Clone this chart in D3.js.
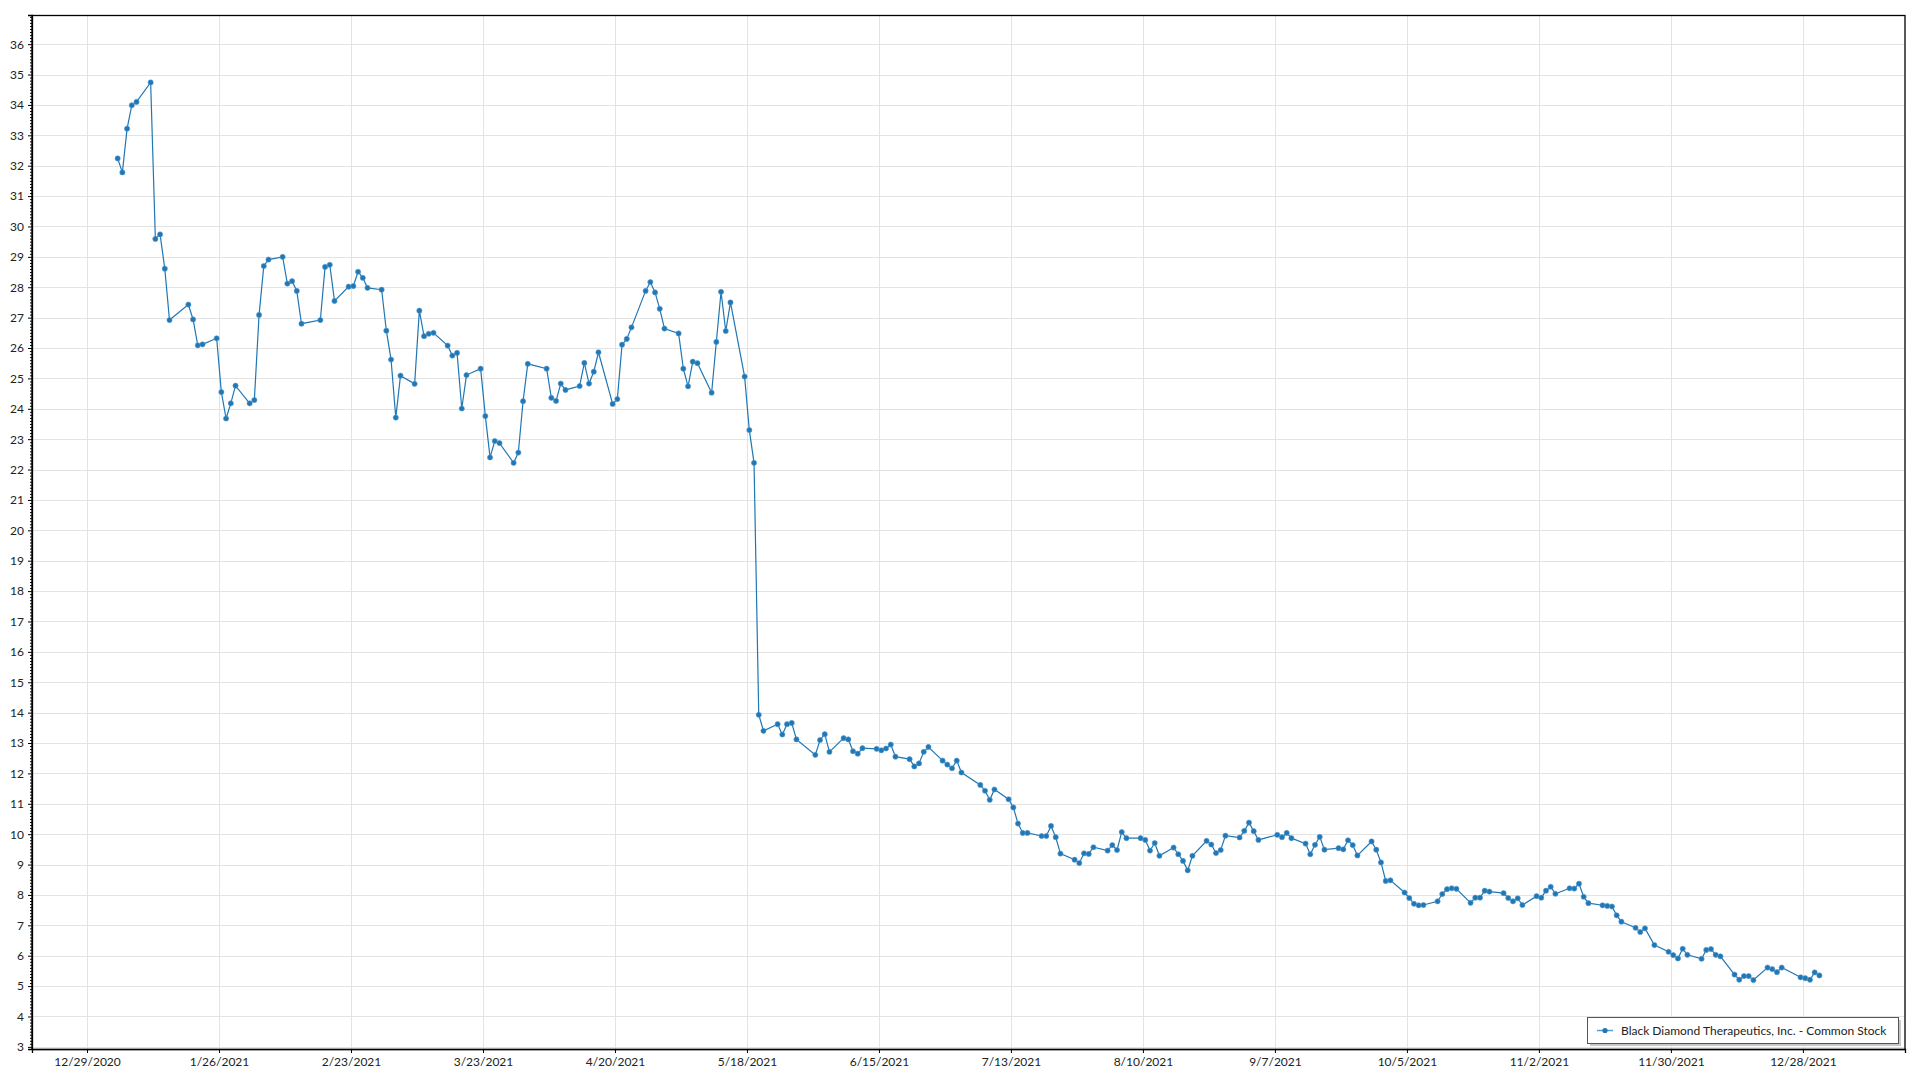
<!DOCTYPE html>
<html>
<head>
<meta charset="utf-8">
<script src="https://cdn.jsdelivr.net/npm/d3@7"></script>
<style>
  html, body { margin: 0; padding: 0; background: #fff; }
  svg { display: block; }
  text { font-family: "Segoe UI", Lato, "Noto Sans", sans-serif; }
</style>
</head>
<body>
<svg id="chart" width="1920" height="1080"></svg>
<script>
// ---- Data ----
const seriesName = "Black Diamond Therapeutics, Inc. - Common Stock";

const tradeDates = [
  "2021-01-04","2021-01-05","2021-01-06","2021-01-07","2021-01-08","2021-01-11","2021-01-12","2021-01-13","2021-01-14","2021-01-15",
  "2021-01-19","2021-01-20","2021-01-21","2021-01-22","2021-01-25","2021-01-26","2021-01-27","2021-01-28","2021-01-29",
  "2021-02-01","2021-02-02","2021-02-03","2021-02-04","2021-02-05","2021-02-08","2021-02-09","2021-02-10","2021-02-11","2021-02-12",
  "2021-02-16","2021-02-17","2021-02-18","2021-02-19","2021-02-22","2021-02-23","2021-02-24","2021-02-25","2021-02-26",
  "2021-03-01","2021-03-02","2021-03-03","2021-03-04","2021-03-05","2021-03-08","2021-03-09","2021-03-10","2021-03-11","2021-03-12",
  "2021-03-15","2021-03-16","2021-03-17","2021-03-18","2021-03-19","2021-03-22","2021-03-23","2021-03-24","2021-03-25","2021-03-26",
  "2021-03-29","2021-03-30","2021-03-31",
  "2021-04-01","2021-04-05","2021-04-06","2021-04-07","2021-04-08","2021-04-09","2021-04-12","2021-04-13","2021-04-14","2021-04-15",
  "2021-04-16","2021-04-19","2021-04-20","2021-04-21","2021-04-22","2021-04-23","2021-04-26","2021-04-27","2021-04-28","2021-04-29","2021-04-30",
  "2021-05-03","2021-05-04","2021-05-05","2021-05-06","2021-05-07","2021-05-10","2021-05-11","2021-05-12","2021-05-13","2021-05-14",
  "2021-05-17","2021-05-18","2021-05-19","2021-05-20","2021-05-21","2021-05-24","2021-05-25","2021-05-26","2021-05-27","2021-05-28",
  "2021-06-01","2021-06-02","2021-06-03","2021-06-04","2021-06-07","2021-06-08","2021-06-09","2021-06-10","2021-06-11","2021-06-14",
  "2021-06-15","2021-06-16","2021-06-17","2021-06-18","2021-06-21","2021-06-22","2021-06-23","2021-06-24","2021-06-25","2021-06-28",
  "2021-06-29","2021-06-30",
  "2021-07-01","2021-07-02","2021-07-06","2021-07-07","2021-07-08","2021-07-09","2021-07-12","2021-07-13","2021-07-14","2021-07-15",
  "2021-07-16","2021-07-19","2021-07-20","2021-07-21","2021-07-22","2021-07-23","2021-07-26","2021-07-27","2021-07-28","2021-07-29","2021-07-30",
  "2021-08-02","2021-08-03","2021-08-04","2021-08-05","2021-08-06","2021-08-09","2021-08-10","2021-08-11","2021-08-12","2021-08-13",
  "2021-08-16","2021-08-17","2021-08-18","2021-08-19","2021-08-20","2021-08-23","2021-08-24","2021-08-25","2021-08-26","2021-08-27",
  "2021-08-30","2021-08-31",
  "2021-09-01","2021-09-02","2021-09-03","2021-09-07","2021-09-08","2021-09-09","2021-09-10","2021-09-13","2021-09-14","2021-09-15",
  "2021-09-16","2021-09-17","2021-09-20","2021-09-21","2021-09-22","2021-09-23","2021-09-24","2021-09-27","2021-09-28","2021-09-29","2021-09-30",
  "2021-10-01","2021-10-04","2021-10-05","2021-10-06","2021-10-07","2021-10-08","2021-10-11","2021-10-12","2021-10-13","2021-10-14",
  "2021-10-15","2021-10-18","2021-10-19","2021-10-20","2021-10-21","2021-10-22","2021-10-25","2021-10-26","2021-10-27","2021-10-28","2021-10-29",
  "2021-11-01","2021-11-02","2021-11-03","2021-11-04","2021-11-05","2021-11-08","2021-11-09","2021-11-10","2021-11-11","2021-11-12",
  "2021-11-15","2021-11-16","2021-11-17","2021-11-18","2021-11-19","2021-11-22","2021-11-23","2021-11-24","2021-11-26","2021-11-29","2021-11-30",
  "2021-12-01","2021-12-02","2021-12-03","2021-12-06","2021-12-07","2021-12-08","2021-12-09","2021-12-10","2021-12-13","2021-12-14",
  "2021-12-15","2021-12-16","2021-12-17","2021-12-20","2021-12-21","2021-12-22","2021-12-23","2021-12-27","2021-12-28","2021-12-29",
  "2021-12-30","2021-12-31"
];

const closes = [
  32.24,31.78,33.22,33.99,34.10,34.74,29.59,29.74,28.61,26.92,
  27.43,26.94,26.09,26.12,26.32,24.55,23.68,24.18,24.76,
  24.18,24.29,27.09,28.70,28.91,29.00,28.12,28.20,27.88,26.80,
  26.92,28.67,28.74,27.55,28.02,28.04,28.51,28.31,27.98,
  27.92,26.57,25.62,23.71,25.09,24.82,27.23,26.39,26.47,26.50,
  26.08,25.75,25.84,24.01,25.11,25.32,23.76,22.40,22.94,22.87,
  22.22,22.56,24.25,
  25.48,25.32,24.36,24.26,24.83,24.62,24.75,25.51,24.83,25.22,
  25.86,24.16,24.32,26.11,26.30,26.68,27.88,28.17,27.83,27.29,26.64,
  26.48,25.32,24.74,25.55,25.50,24.53,26.20,27.85,26.56,27.50,
  25.06,23.30,22.22,13.93,13.40,13.62,13.28,13.62,13.66,13.12,
  12.61,13.10,13.29,12.71,13.16,13.12,12.73,12.65,12.83,12.81,
  12.76,12.82,12.95,12.55,12.47,12.23,12.33,12.71,12.87,12.42,
  12.29,12.17,
  12.42,12.03,11.62,11.43,11.13,11.47,11.15,10.88,10.35,10.04,
  10.04,9.94,9.94,10.27,9.90,9.36,9.16,9.05,9.37,9.35,9.57,
  9.46,9.64,9.48,10.07,9.87,9.87,9.81,9.46,9.71,9.29,
  9.56,9.34,9.12,8.81,9.29,9.78,9.66,9.38,9.48,9.95,
  9.89,10.11,
  10.38,10.10,9.81,9.98,9.90,10.04,9.87,9.69,9.34,9.65,
  9.91,9.49,9.54,9.50,9.80,9.64,9.30,9.76,9.49,9.07,8.46,
  8.48,8.08,7.90,7.71,7.66,7.67,7.79,8.03,8.19,8.22,
  8.20,7.74,7.91,7.91,8.14,8.11,8.06,7.90,7.79,7.89,7.67,
  7.96,7.91,8.14,8.27,8.04,8.22,8.21,8.37,7.94,7.73,
  7.66,7.64,7.62,7.33,7.12,6.92,6.78,6.90,6.35,6.13,6.02,
  5.91,6.23,6.03,5.90,6.19,6.22,6.03,5.98,5.38,5.21,
  5.33,5.33,5.20,5.61,5.56,5.46,5.61,5.29,5.26,5.21,
  5.45,5.35
];

// Axis tick labels
const xTickLabels = ["12/29/2020","1/26/2021","2/23/2021","3/23/2021","4/20/2021","5/18/2021","6/15/2021",
                     "7/13/2021","8/10/2021","9/7/2021","10/5/2021","11/2/2021","11/30/2021","12/28/2021"];
const yTickValues = [3,4,5,6,7,8,9,10,11,12,13,14,15,16,17,18,19,20,21,22,23,24,25,26,27,28,29,30,31,32,33,34,35,36];

// ---- Layout ----
const plot = { left: 32, top: 15, right: 1905, bottom: 1049 };
const DAY = 86400000;
const color = "#1f77b4";

const parseMDY = s => { const [m, d, y] = s.split("/").map(Number); return new Date(Date.UTC(y, m - 1, d)); };
const xTicks = xTickLabels.map(parseMDY);

const data = tradeDates.map((s, i) => ({ date: new Date(Date.parse(s + "T12:00:00Z")), value: closes[i] }));

const x = d3.scaleUtc()
  .domain([new Date(xTicks[0].getTime() - 11.67 * DAY), new Date(xTicks[0].getTime() + 385.66 * DAY)])
  .range([plot.left, plot.right]);
const y = d3.scaleLinear()
  .domain([2.93, 36.96])
  .range([plot.bottom, plot.top]);

const svg = d3.select("#chart");

// Grid
const grid = svg.append("g");
grid.selectAll("line.hg").data(yTickValues).join("line")
  .attr("x1", plot.left).attr("x2", plot.right)
  .attr("y1", d => Math.round(y(d)) + 0.5).attr("y2", d => Math.round(y(d)) + 0.5)
  .attr("stroke", "#e3e3e3").attr("stroke-width", 1);
grid.selectAll("line.vg").data(xTicks).join("line")
  .attr("x1", d => Math.round(x(d)) + 0.5).attr("x2", d => Math.round(x(d)) + 0.5)
  .attr("y1", plot.top).attr("y2", plot.bottom)
  .attr("stroke", "#e3e3e3").attr("stroke-width", 1);

// Frame (top & right)
svg.append("rect")
  .attr("x", plot.left).attr("y", plot.top + 0.5)
  .attr("width", plot.right - plot.left).attr("height", plot.bottom - plot.top)
  .attr("fill", "none").attr("stroke", "#000").attr("stroke-width", 1.3);

// Y axis with minor ticks
const minorVals = d3.range(30, 370).map(v => v / 10).filter(v => Math.abs(v - Math.round(v)) > 1e-6 && v > 2.93 && v < 36.96);
const yMinor = svg.append("g").attr("transform", `translate(${plot.left},0)`)
  .call(d3.axisLeft(y).tickValues(minorVals).tickSize(2).tickFormat(""));
yMinor.select(".domain").remove();
yMinor.selectAll(".tick line").attr("stroke", "#000");

const yAxis = svg.append("g").attr("transform", `translate(${plot.left},0)`)
  .call(d3.axisLeft(y).tickValues(yTickValues).tickSize(4).tickPadding(4).tickFormat(d3.format("d")));
yAxis.select(".domain").attr("stroke", "#000").attr("stroke-width", 1.3);
yAxis.selectAll(".tick line").attr("stroke", "#000");
yAxis.selectAll(".tick text").attr("fill", "#222").style("font-size", "12px")
  .style("font-family", "\"Segoe UI\", Lato, \"Noto Sans\", sans-serif");

// X axis
const fmt = d => `${d.getUTCMonth() + 1}/${d.getUTCDate()}/${d.getUTCFullYear()}`;
const xAxis = svg.append("g").attr("transform", `translate(0,${plot.bottom})`)
  .call(d3.axisBottom(x).tickValues(xTicks).tickSize(4).tickPadding(4).tickFormat(fmt));
xAxis.select(".domain").attr("stroke", "#000").attr("stroke-width", 1.3);
xAxis.selectAll(".tick line").attr("stroke", "#000");
xAxis.selectAll(".tick text").attr("fill", "#222").style("font-size", "12px")
  .style("font-family", "\"Segoe UI\", Lato, \"Noto Sans\", sans-serif");

// Series
const line = d3.line().x(d => x(d.date)).y(d => y(d.value));
svg.append("path").datum(data)
  .attr("d", line).attr("fill", "none").attr("stroke", color).attr("stroke-width", 1.2);
svg.append("g").selectAll("circle").data(data).join("circle")
  .attr("cx", d => x(d.date)).attr("cy", d => y(d.value)).attr("r", 2.6)
  .attr("fill", color).attr("stroke", "#5a9bd0").attr("stroke-width", 0.6);

// Legend
const lg = { x: 1587, y: 1017, w: 311, h: 26 };
svg.append("rect").attr("x", lg.x + 3).attr("y", lg.y + 3).attr("width", lg.w).attr("height", lg.h)
  .attr("fill", "#c8c8c8");
svg.append("rect").attr("x", lg.x + 0.5).attr("y", lg.y + 0.5).attr("width", lg.w).attr("height", lg.h)
  .attr("fill", "#fff").attr("stroke", "#555").attr("stroke-width", 1);
svg.append("line").attr("x1", lg.x + 10).attr("x2", lg.x + 26).attr("y1", lg.y + 13.5).attr("y2", lg.y + 13.5)
  .attr("stroke", "#5a9bd0").attr("stroke-width", 1.5);
svg.append("circle").attr("cx", lg.x + 18).attr("cy", lg.y + 13.5).attr("r", 2.6).attr("fill", color);
svg.append("text").attr("x", lg.x + 34).attr("y", lg.y + 13.5).attr("dy", "0.35em")
  .attr("fill", "#222").style("font-size", "12px").text(seriesName);
</script>
</body>
</html>
